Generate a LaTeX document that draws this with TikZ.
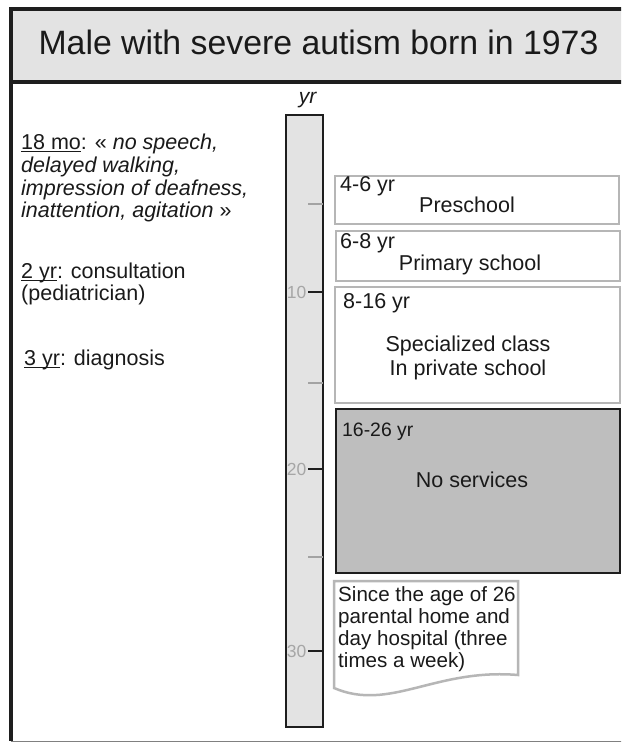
\documentclass[tikz,border=0pt]{standalone}
\usepackage{fontspec}
\setmainfont{Liberation Sans}
\definecolor{lightg}{HTML}{E3E3E3}
\definecolor{boxgray}{HTML}{B6B6B6}
\definecolor{nsgray}{HTML}{BEBEBE}
\definecolor{ink}{HTML}{1A1A1A}
\definecolor{frame}{HTML}{1E1E1E}
\definecolor{ticklight}{HTML}{A3A3A3}
\definecolor{labgray}{HTML}{A6A6A6}
\newcommand\myul[1]{\setbox0\hbox{#1}\rlap{\rule[-2.4pt]{\wd0}{0.9pt}}\box0}
\tikzset{
  databox/.style={draw=boxgray, line width=2.5pt, fill=white},
  txt/.style={inner sep=0pt, text=ink, font=\fontsize{21.5}{22.6}\selectfont},
  smalltxt/.style={inner sep=0pt, text=ink, font=\fontsize{19.4}{22.3}\selectfont},
  doctxt/.style={inner sep=0pt, text=ink, font=\fontsize{20.6}{22.3}\selectfont},
  darktick/.style={draw=frame, line width=2.5pt},
  lighttick/.style={draw=ticklight, line width=2.5pt},
  ticklab/.style={inner sep=0pt, text=labgray, font=\fontsize{17.5}{19}\selectfont, anchor=east}
}
\begin{document}
\begin{tikzpicture}[x=1pt,y=-1pt]
\useasboundingbox (0,0) rectangle (621,743);
\fill[white] (0,0) rectangle (621,743);
\begin{scope}
\clip (0,0) rectangle (621,743);
% frame
\draw[draw=gray, line width=1.5pt] (11,741.5) -- (640,741.5);
\draw[draw=frame, line width=4pt] (11,9) -- (11,741);
% title box
\draw[draw=frame, line width=3.5pt, fill=lightg] (11,9) rectangle (640,82);
\end{scope}
\node[anchor=base, inner sep=0pt, text=ink, font=\fontsize{33.8}{40}\selectfont] (title) at (318.5,55) {Male with severe autism born in 1973};

% left text
\node[txt, anchor=base west] (l1) at (21,150) {\myul{18 mo}: « \textit{no speech,}};
\node[txt, anchor=base west] (l2) at (21,172.6) {\textit{delayed walking,}};
\node[txt, anchor=base west] (l3) at (21,195.2) {\textit{impression of deafness,}};
\node[txt, anchor=base west] (l4) at (21,217.8) {\textit{inattention, agitation} »};
\node[txt, anchor=base west] (l5) at (21,278.3) {\myul{2 yr}: consultation};
\node[txt, anchor=base west] (l6) at (21,300.9) {(pediatrician)};
\node[txt, anchor=base west] (l7) at (24,365) {\myul{3 yr}: diagnosis};

% time bar
\node[txt, anchor=base, font=\itshape\fontsize{21}{24}\selectfont] (yr) at (307.5,104) {yr};
\draw[fill=lightg, draw=frame, line width=1.5pt] (286,115) rectangle (323,727);
\draw[lighttick] (308,204) -- (323,204);
\draw[darktick] (308,292) -- (323,292);
\draw[lighttick] (308,383) -- (323,383);
\draw[darktick] (308,469) -- (323,469);
\draw[lighttick] (308,557) -- (323,557);
\draw[darktick] (308,651) -- (323,651);
\node[ticklab] (n10) at (306.5,292) {10};
\node[ticklab] (n20) at (306.5,469) {20};
\node[ticklab] (n30) at (306.5,651) {30};

% period boxes
\draw[databox] (335,176) rectangle (619,224);
\draw[databox] (336,231) rectangle (620,281);
\draw[databox] (335,287) rectangle (620,403);
\draw[fill=nsgray, draw=frame, line width=1.5pt] (336,409) rectangle (620,573);
\draw[databox] (334,581) -- (518,581) -- (518,675) .. controls (435,668) and (390,712) .. (334,688) -- cycle;

\node[txt, anchor=base west] (a46) at (340,192) {4-6 yr};
\node[txt, anchor=base] (pre) at (467,212) {Preschool};
\node[txt, anchor=base west] (a68) at (340,248) {6-8 yr};
\node[txt, anchor=base] (prim) at (470,270) {Primary school};
\node[txt, anchor=base west] (a816) at (343,308) {8-16 yr};
\node[txt, anchor=base] (spec) at (468,351) {Specialized class};
\node[txt, anchor=base] (priv) at (468,375) {In private school};
\node[smalltxt, anchor=base west] (a1626) at (342,436) {16-26 yr};
\node[txt, anchor=base] (nos) at (472,487) {No services};

\node[doctxt, anchor=base west] (d1) at (338,601) {Since the age of 26};
\node[doctxt, anchor=base west] (d2) at (338,623.3) {parental home and};
\node[doctxt, anchor=base west] (d3) at (338,645.6) {day hospital (three};
\node[doctxt, anchor=base west] (d4) at (338,667.9) {times a week)};
\end{tikzpicture}
\end{document}
